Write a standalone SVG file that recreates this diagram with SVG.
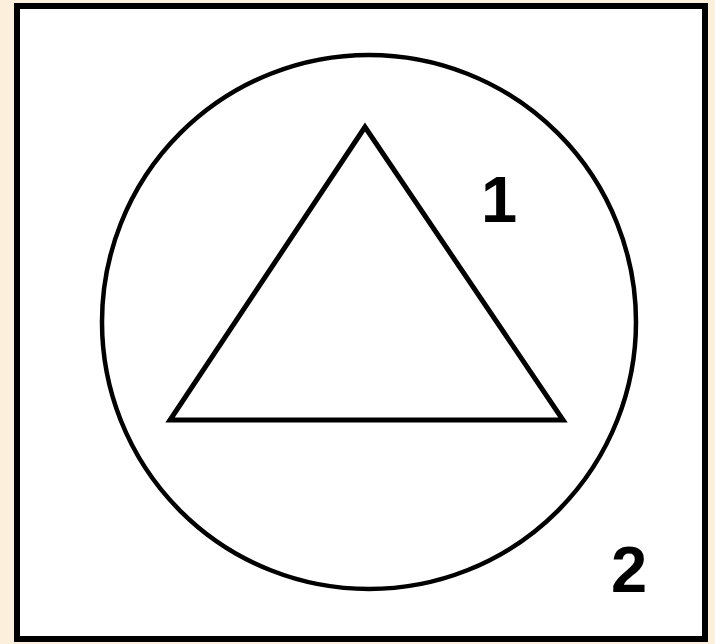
<svg xmlns="http://www.w3.org/2000/svg" width="715" height="644" viewBox="0 0 715 644">
<style>
.lbl{font-family:"Liberation Sans",Arial,sans-serif;font-weight:bold;font-size:65px;fill:#000;text-anchor:middle}
.shape{fill:none;stroke:#000}
</style>
<rect x="0" y="0" width="715" height="644" fill="#fcefdc"/>
<rect id="frame" x="17" y="6" width="688" height="633" fill="#fff" stroke="#000" stroke-width="6"/>
<g id="region2">
<circle class="shape" cx="369" cy="322" r="267" stroke-width="4.5"/>
<text class="lbl" x="629" y="592">2</text>
</g>
<g id="region1">
<polygon class="shape" points="365,127 170,420 563,420" stroke-width="5" stroke-linejoin="miter"/>
<text class="lbl" x="499" y="222">1</text>
</g>
<g id="connectors"/>
</svg>
